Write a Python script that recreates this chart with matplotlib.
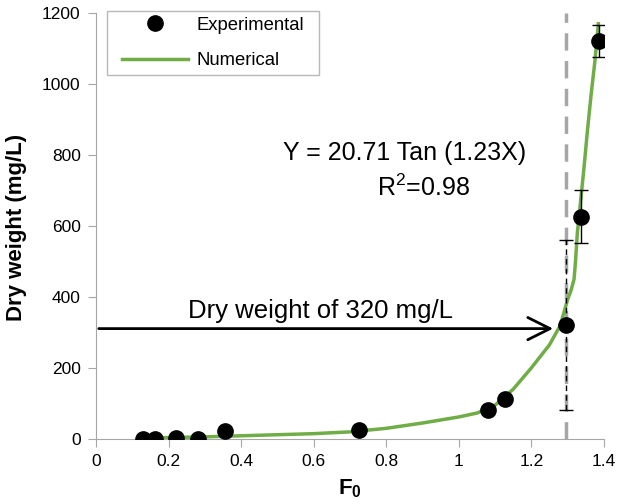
import numpy as np
import matplotlib.pyplot as plt

plt.rcParams['font.family'] = ['Liberation Sans', 'DejaVu Sans']
plt.rcParams['mathtext.fontset'] = 'custom'
plt.rcParams['mathtext.rm'] = 'Liberation Sans'
plt.rcParams['mathtext.bf'] = 'Liberation Sans:bold'

# experimental points (F0, dry weight mg/L)
exp_x = [0.13, 0.164, 0.221, 0.282, 0.356, 0.724, 1.080, 1.128, 1.295, 1.336, 1.387]
exp_y = [0, 1, 2, 1, 22, 24, 83, 114, 321, 626, 1122]
# error bars only on last three points
err_x = [1.336, 1.387]
err_y = [626, 1122]
err_v = [75, 45]
dash_x = [1.295]
dash_y = [321]
dash_err = [239]

# numerical curve
num_x = [0.13, 0.2, 0.3, 0.4, 0.5, 0.6, 0.7, 0.8, 0.9, 1.0, 1.05, 1.1, 1.15, 1.2, 1.25,
         1.28, 1.30, 1.31, 1.318, 1.322, 1.327, 1.335, 1.345, 1.355, 1.365, 1.375, 1.385]
num_y = [2, 4, 6, 9, 12, 15, 20, 30, 45, 62, 73, 95, 140, 200, 265,
         320, 392, 420, 450, 500, 580, 660, 760, 870, 970, 1060, 1170]

green = "#70AD47"
gray = "#A6A6A6"

fig = plt.figure(figsize=(6.17, 5.04), dpi=100)
ax = fig.add_axes([0.1556, 0.129, 0.823, 0.845])

ax.axvline(1.295, color=gray, lw=2.5, ls=(0, (5, 3)), zorder=1)
ax.plot(num_x, num_y, color=green, lw=2.5, label="Numerical", zorder=2)
ax.plot(exp_x, exp_y, "o", color="black", ms=11, label="Experimental", zorder=4)
ax.errorbar(err_x, err_y, yerr=err_v, fmt="none", ecolor="black", elinewidth=1,
            capsize=5, zorder=3)
eb = ax.errorbar(dash_x, dash_y, yerr=dash_err, fmt="none", ecolor="black",
                 elinewidth=1, capsize=5, zorder=3)
eb[2][0].set_linestyle((0, (4, 3)))

ax.annotate("", xy=(1.268, 311), xytext=(0, 311),
            arrowprops=dict(arrowstyle="->,head_length=1.6,head_width=0.8", color="black", lw=2),
            zorder=5)
ax.text(0.62, 328, "Dry weight of 320 mg/L", fontsize=18.5, ha="center", va="bottom")
ax.text(0.85, 787, "Y = 20.71 Tan (1.23X)", fontsize=18, ha="center", va="baseline")
ax.text(0.902, 686, "R$^2$=0.98", fontsize=18, ha="center", va="baseline")

ax.set_xlim(0, 1.4)
ax.set_ylim(0, 1200)
ax.set_xticks(np.arange(0, 1.41, 0.2))
ax.set_xticklabels(["0", "0.2", "0.4", "0.6", "0.8", "1", "1.2", "1.4"])
ax.set_yticks(range(0, 1201, 200))
for s in ["top", "right"]:
    ax.spines[s].set_visible(False)
for s in ["left", "bottom"]:
    ax.spines[s].set_color(gray)
ax.tick_params(colors=gray, labelcolor="black", labelsize=12.5, length=6, pad=5)
ax.set_xlabel("$\\mathbf{F_0}$", fontsize=16, labelpad=6)
ax.set_ylabel("Dry weight (mg/L)", fontsize=16, fontweight="bold")
ax.yaxis.set_label_coords(-0.135, 0.496)

handles, labels = ax.get_legend_handles_labels()
leg = ax.legend([handles[1], handles[0]], [labels[1], labels[0]], loc="upper left",
                bbox_to_anchor=(116.5 / 617, 1 - 11 / 504), bbox_transform=fig.transFigure,
                borderaxespad=0, fancybox=False, fontsize=13.3,
                handlelength=3.55, handletextpad=0.49, edgecolor=gray, borderpad=0.3,
                labelspacing=1.0)
# extra horizontal padding only
frame = leg.get_frame()
frame.set_linewidth(1)
frame.set_boxstyle("square", pad=0.51)
frame.set_mutation_aspect(0.001)

fig.savefig("out.png", dpi=100)
